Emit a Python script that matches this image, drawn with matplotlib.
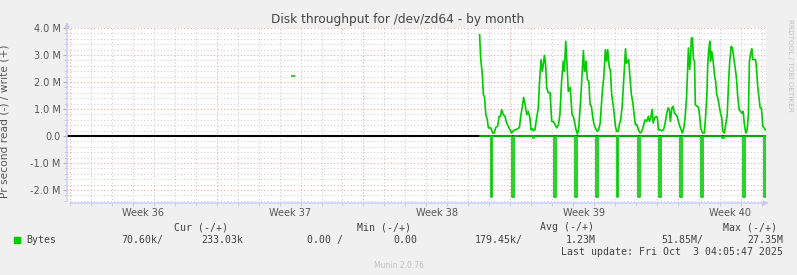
import matplotlib.pyplot as plt
import numpy as np
from matplotlib.patches import Rectangle

# time axis in days since the first week line (week 36), values in MB/s
write_days = [19.54, 19.59, 19.67, 19.72, 19.77, 19.84, 19.89, 19.96, 20.08, 20.16,
              20.24, 20.31, 20.40, 20.47, 20.54, 20.59, 20.67, 20.75, 20.83, 20.91,
              20.99, 21.07, 21.15, 21.23, 21.36, 21.44, 21.50, 21.58, 21.64, 21.71,
              21.79, 21.86, 21.94, 21.99, 22.06, 22.10, 22.18, 22.26, 22.34, 22.39,
              22.47, 22.53, 22.58, 22.63, 22.69, 22.74, 22.82, 22.90, 22.98, 23.06,
              23.14, 23.22, 23.30, 23.37, 23.45, 23.53, 23.58, 23.65, 23.71, 23.77,
              23.86, 23.90, 23.95, 24.01, 24.08, 24.14, 24.21, 24.27, 24.33, 24.38,
              24.43, 24.49, 24.54, 24.59, 24.62, 24.68, 24.75, 24.81, 24.87, 24.94,
              25.00, 25.06, 25.16, 25.22, 25.29, 25.35, 25.40, 25.46, 25.51, 25.54,
              25.60, 25.65, 25.72, 25.78, 25.84, 25.91, 25.97, 26.02, 26.08, 26.15,
              26.21, 26.27, 26.34, 26.40, 26.45, 26.50, 26.54, 26.61, 26.65, 26.72,
              26.78, 26.85, 26.91, 26.97, 27.04, 27.12, 27.20, 27.27, 27.35, 27.43,
              27.51, 27.59, 27.64, 27.70, 27.77, 27.82, 27.88, 27.96, 28.02, 28.07,
              28.15, 28.23, 28.31, 28.39, 28.47, 28.53, 28.59, 28.64, 28.71, 28.77,
              28.83, 28.90, 28.96, 29.02, 29.09, 29.15, 29.21, 29.28, 29.34, 29.41,
              29.45, 29.50, 29.56, 29.61, 29.64, 29.69, 29.74, 29.79, 29.83, 29.90,
              29.98, 30.03, 30.09, 30.14, 30.18, 30.26, 30.31, 30.38, 30.42, 30.47,
              30.52, 30.55, 30.61, 30.68, 30.74, 30.80, 30.85, 30.90, 30.96, 31.03,
              31.09, 31.14, 31.22, 31.28, 31.35, 31.41, 31.47, 31.54, 31.60, 31.66,
              31.73, 31.79, 31.85, 31.92, 31.98, 32.05, 32.11, 32.17, 32.24, 32.30,
              32.36, 32.41, 32.47, 32.52, 32.57, 32.63, 32.70, 32.74, 32.81, 32.87,
              32.92, 32.98, 33.05, 33.11, 33.16]
write_vals = [3.75, 2.89, 2.27, 1.52, 1.46, 0.77, 0.67, 0.30, 0.30, 0.11,
              0.11, 0.32, 0.36, 0.73, 0.73, 0.98, 0.79, 0.73, 0.48, 0.36,
              0.23, 0.11, 0.20, 0.23, 0.27, 0.32, 0.73, 1.09, 1.43, 1.16,
              0.79, 0.91, 0.67, 0.23, 0.27, 0.20, 0.23, 0.67, 1.04, 1.90,
              2.83, 2.40, 2.64, 2.99, 2.64, 1.78, 1.60, 1.60, 0.54, 0.54,
              0.42, 0.30, 0.42, 0.79, 2.02, 2.77, 2.40, 3.51, 2.64, 1.65,
              1.80, 1.35, 0.79, 0.73, 0.48, 0.23, 0.07, 0.30, 0.98, 1.60,
              2.33, 3.16, 2.40, 2.42, 2.77, 2.09, 2.02, 1.16, 1.10, 0.67,
              0.42, 0.30, 0.17, 0.23, 0.48, 1.16, 1.72, 2.15, 2.77, 3.20,
              2.77, 3.20, 2.58, 2.40, 1.53, 1.16, 0.73, 0.36, 0.17, 0.17,
              0.44, 0.60, 1.10, 1.90, 2.52, 3.23, 2.70, 2.77, 2.83, 2.09,
              1.53, 1.22, 0.79, 0.42, 0.42, 0.23, 0.11, 0.17, 0.36, 0.60,
              0.54, 0.73, 0.54, 0.67, 0.98, 0.48, 0.67, 0.73, 0.67, 0.23,
              0.23, 0.20, 0.23, 0.48, 0.85, 1.04, 0.98, 0.54, 1.04, 1.10,
              0.85, 0.79, 0.73, 0.54, 0.36, 0.23, 0.11, 0.30, 0.67, 1.41,
              2.21, 3.26, 2.46, 3.01, 3.63, 3.63, 2.83, 2.77, 1.16, 1.10,
              1.06, 0.79, 0.30, 0.17, 0.11, 0.11, 0.60, 1.53, 2.64, 3.20,
              3.51, 2.77, 3.14, 2.77, 2.27, 2.02, 1.53, 1.41, 1.16, 0.85,
              0.67, 0.17, 0.11, 0.42, 0.79, 1.90, 2.77, 3.32, 3.26, 2.89,
              2.52, 2.15, 1.47, 0.98, 0.91, 0.85, 0.91, 0.42, 0.11, 0.23,
              0.79, 2.77, 3.07, 3.23, 2.83, 2.83, 2.83, 2.58, 1.78, 1.41,
              1.04, 1.04, 0.36, 0.30, 0.23]

# read side (drawn negative): short 2h bursts
read_days = [20.07, 21.08, 22.07, 23.09, 24.09, 25.09, 26.08, 27.11,
             28.10, 29.10, 30.09, 31.09, 32.10, 33.11]
read_vals = [2.26, 2.26, 0.06, 2.26, 2.26, 2.26, 2.26, 2.26,
             2.26, 2.26, 2.26, 0.08, 2.26, 2.26]

# one lonely sample earlier in the month
lone_day = [10.62]
lone_val = [2.21]

week_labels = ["Week 36", "Week 37", "Week 38", "Week 39", "Week 40"]
y_ticks = [-2, -1, 0, 1, 2, 3, 4]
y_labels = ["-2.0 M", "-1.0 M", "0.0", "1.0 M", "2.0 M", "3.0 M", "4.0 M"]

W, H = 797, 275
GREEN = '#00cc00'
TXT = '#555555'

fig = plt.figure(figsize=(W / 100, H / 100), dpi=100, facecolor='#f0f0f0')
ax = fig.add_axes([67 / W, 1 - 203 / H, (766 - 67) / W, (203 - 28) / H])
ax.set_facecolor('white')
ax.set_xlim(-0.14, 33.2)
ax.set_ylim(-2.48, 4.0)

# grid
for d in range(0, 34):
    col = '#f2a8a8' if d % 7 == 0 else '#d0d0d0'
    ax.axvline(d, color=col, lw=0.8, ls=(0, (1, 2)), zorder=1)
for k in range(-12, 21):
    col = '#f2a8a8' if k % 5 == 0 else '#d0d0d0'
    ax.axhline(k * 0.2, color=col, lw=0.8, ls=(0, (1, 2)), zorder=1)

ax.axhline(0, color='black', lw=1.5, zorder=3)

# read series: zero baseline with the bursts
rx, ry = [write_days[0]], [0.0]
step = 1 / 12
for d, v in zip(read_days, read_vals):
    rx += [d, d, d + step, d + step]
    ry += [0.0, -v, -v, 0.0]
rx.append(write_days[-1])
ry.append(0.0)
ax.plot(rx, ry, color=GREEN, lw=1.2, zorder=4)
ax.plot(write_days, write_vals, color=GREEN, lw=1.2, zorder=4)
ax.plot(lone_day, lone_val, color=GREEN, marker='_', ms=3, mew=1.2, ls='none', zorder=4)

# axes with arrows
for s in ax.spines.values():
    s.set_visible(False)
axcol = '#c8c8f8'
ax.annotate('', xy=(0, 1.05), xytext=(0, 0), xycoords='axes fraction',
            arrowprops=dict(arrowstyle='-|>', color=axcol, lw=1, mutation_scale=7),
            annotation_clip=False)
ax.annotate('', xy=(1.008, 0), xytext=(0, 0), xycoords='axes fraction',
            arrowprops=dict(arrowstyle='-|>', color=axcol, lw=1, mutation_scale=7),
            annotation_clip=False)

ax.set_yticks(y_ticks, y_labels)
ax.set_yticks(np.arange(-2.4, 4.01, 0.2), minor=True)
ax.set_xticks([3.5, 10.5, 17.5, 24.5, 31.5], week_labels)
ax.set_xticks(np.arange(0, 34), minor=True)
ax.tick_params(axis='y', which='major', length=3, color='#b0b0b0', pad=1.5,
               labelsize=7, labelcolor=TXT)
ax.tick_params(axis='y', which='minor', length=2, color='#c8c8c8')
ax.tick_params(axis='x', which='major', length=0, pad=3.5, labelsize=7, labelcolor=TXT)
ax.tick_params(axis='x', which='minor', length=2, color='#c8c8c8')

ax.set_ylabel("Pr second read (-) / write (+)", fontsize=7.7, color=TXT)
ax.yaxis.set_label_coords(-57 / 699, 0.47)

fig.text(398 / W, 1 - 19 / H, "Disk throughput for /dev/zd64 - by month",
         ha='center', va='center', fontsize=8.7, color='#444444')
fig.text(790 / W, 1 - 65 / H, "RRDTOOL / TOBI OETIKER", rotation=270,
         ha='center', va='center', fontsize=5.2, color='#c0c0c0')

# legend block
mono = dict(family='DejaVu Sans Mono', fontsize=7.15, color='#404040', va='center')


def t(x, y, s, **kw):
    fig.text(x / W, 1 - y / H, s, **{**mono, **kw})


fig.patches.append(Rectangle((14 / W, 1 - 243 / H), 6 / W, 6 / H,
                             transform=fig.transFigure, color=GREEN))
t(26, 240, "Bytes")
t(174, 227, "Cur (-/+)")
t(357, 227, "Min (-/+)")
t(540, 227, "Avg (-/+)")
t(723, 227, "Max (-/+)")
t(121, 240, "70.60k/")
t(201, 240, "233.03k")
t(307, 240, "0.00 /")
t(393, 240, "0.00")
t(475, 240, "179.45k/")
t(566, 240, "1.23M")
t(661, 240, "51.85M/")
t(747, 240, "27.35M")
t(783, 252, "Last update: Fri Oct  3 04:05:47 2025", ha='right')
fig.text(399 / W, 1 - 265 / H, "Munin 2.0.76", ha='center', va='center',
         fontsize=5.5, color='#c0c0c0')

fig.savefig("out.png", dpi=100, facecolor=fig.get_facecolor())
